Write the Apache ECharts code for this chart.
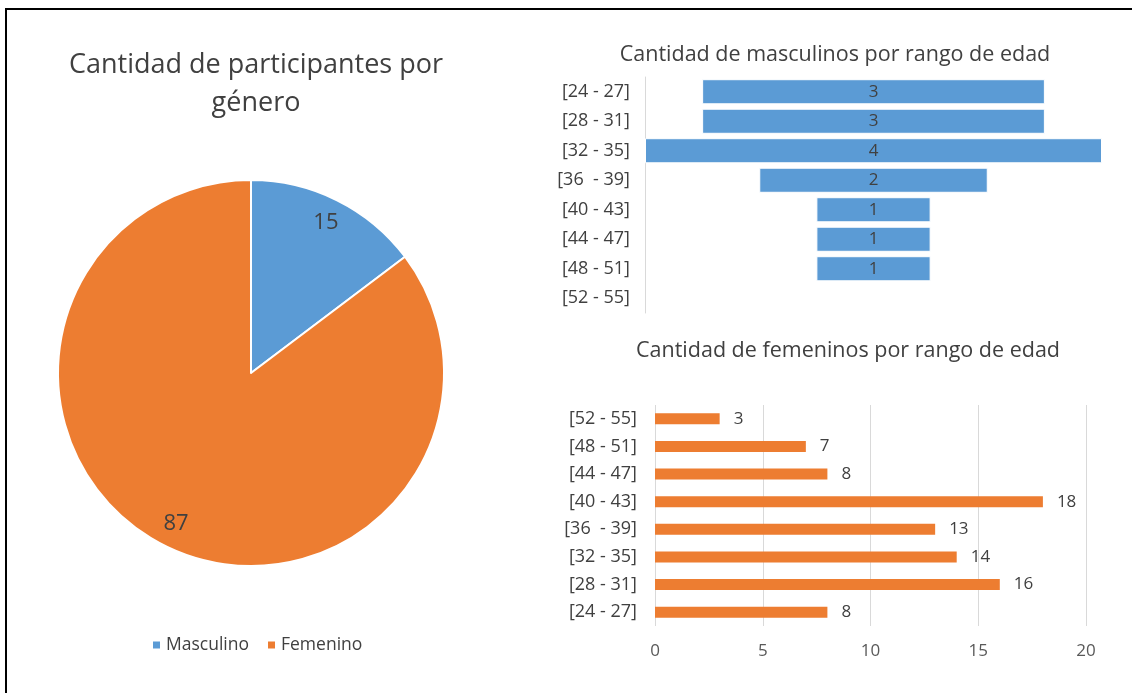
<!DOCTYPE html>
<html>
<head>
<meta charset="utf-8">
<script src="https://cdn.jsdelivr.net/npm/echarts@6/dist/echarts.min.js"></script>
<style>
    html, body { margin: 0; padding: 0; background: #fff; }
    #frame { position: absolute; left: 5px; top: 8px; width: 1127px; height: 685px; border-left: 2px solid #000; border-top: 2px solid #000; }
    #container { position: absolute; left: 0; top: 0; width: 1132px; height: 693px; }
</style>
</head>
<body>
<div id="frame"></div>
<div id="container"></div>
<script>
var generos = ['Masculino', 'Femenino'];
var participantes = [15, 87];

var rangos = ['[24 - 27]', '[28 - 31]', '[32 - 35]', '[36  - 39]', '[40 - 43]', '[44 - 47]', '[48 - 51]', '[52 - 55]'];
var masculinos = [3, 3, 4, 2, 1, 1, 1, 0];
var femeninos = [8, 16, 14, 13, 18, 8, 7, 3];

var femTicks = [0, 5, 10, 15, 20];

document.addEventListener('DOMContentLoaded', function () {
    var chartDom = document.getElementById('container');
    var myChart = echarts.init(chartDom);
    var font = 'Open Sans, sans-serif';
    var azul = '#5B9BD5';
    var naranja = '#ED7D31';
    var texto = '#404040';

    var maxMasc = Math.max.apply(null, masculinos);
    // invisible offset so the male bars sit centred
    var offset = masculinos.map(function (v) { return (maxMasc - v) / 2; });

    var option = {
        animation: false,
        title: [
            {
                text: 'Cantidad de participantes por\ngénero',
                left: 251,
                top: 41,
                textAlign: 'center',
                textStyle: { fontFamily: font, fontSize: 27, fontWeight: 'normal', color: texto, lineHeight: 38 }
            },
            {
                text: 'Cantidad de masculinos por rango de edad',
                left: 830,
                top: 39,
                textAlign: 'center',
                textStyle: { fontFamily: font, fontSize: 21.5, fontWeight: 'normal', color: texto }
            },
            {
                text: 'Cantidad de femeninos por rango de edad',
                left: 843,
                top: 335,
                textAlign: 'center',
                textStyle: { fontFamily: font, fontSize: 21.5, fontWeight: 'normal', color: texto }
            }
        ],
        legend: {
            data: generos,
            left: 146,
            top: 631,
            itemWidth: 9,
            itemHeight: 9,
            itemGap: 17,
            icon: 'rect',
            textStyle: { fontFamily: font, fontSize: 17.5, color: texto }
        },
        grid: [
            { left: 645, top: 77, width: 457, height: 236 },
            { left: 655, top: 405, width: 431, height: 221 }
        ],
        xAxis: [
            {
                gridIndex: 0,
                type: 'value',
                min: 0,
                max: maxMasc,
                show: false
            },
            {
                gridIndex: 1,
                type: 'value',
                min: femTicks[0],
                max: femTicks[femTicks.length - 1],
                interval: 5,
                axisLine: { show: false },
                axisTick: { show: false },
                axisLabel: { fontFamily: font, fontSize: 17, color: '#595959', margin: 17 },
                splitLine: { show: true, lineStyle: { color: '#d9d9d9', width: 1 } }
            }
        ],
        yAxis: [
            {
                gridIndex: 0,
                type: 'category',
                data: rangos,
                inverse: true,
                axisLine: { show: true, lineStyle: { color: '#d9d9d9' } },
                axisTick: { show: false },
                axisLabel: { fontFamily: font, fontSize: 18, color: texto, margin: 15 }
            },
            {
                gridIndex: 1,
                type: 'category',
                data: rangos,
                axisLine: { show: false },
                axisTick: { show: false },
                axisLabel: { fontFamily: font, fontSize: 18, color: texto, margin: 18 }
            }
        ],
        series: [
            {
                name: 'Participantes',
                type: 'pie',
                center: [251, 373],
                radius: [0, 193],
                startAngle: 90,
                clockwise: true,
                label: { show: false },
                labelLine: { show: false },
                itemStyle: { borderColor: '#fff', borderWidth: 2 },
                data: generos.map(function (g, i) {
                    return { name: g, value: participantes[i], itemStyle: { color: i === 0 ? azul : naranja } };
                })
            },
            {
                // label layer, puts the numbers near the rim like Excel
                name: 'Etiquetas',
                type: 'pie',
                center: [251, 373],
                radius: [140, 190],
                startAngle: 90,
                silent: true,
                legendHoverLink: false,
                itemStyle: { color: 'transparent' },
                label: { show: true, position: 'inside', fontFamily: font, fontSize: 22, color: texto, formatter: '{c}' },
                labelLine: { show: false },
                data: generos.map(function (g, i) {
                    return { name: g + ' ', value: participantes[i] };
                })
            },
            {
                type: 'bar',
                xAxisIndex: 0,
                yAxisIndex: 0,
                stack: 'masc',
                silent: true,
                itemStyle: { color: 'transparent' },
                barCategoryGap: '15%',
                data: offset
            },
            {
                name: 'Masculinos',
                type: 'bar',
                xAxisIndex: 0,
                yAxisIndex: 0,
                stack: 'masc',
                barCategoryGap: '15%',
                itemStyle: { color: azul, borderColor: '#fff', borderWidth: 1 },
                label: {
                    show: true,
                    position: 'inside',
                    fontFamily: font,
                    fontSize: 17,
                    color: texto,
                    formatter: function (p) { return p.value ? p.value : ''; }
                },
                data: masculinos
            },
            {
                name: 'Femeninos',
                type: 'bar',
                xAxisIndex: 1,
                yAxisIndex: 1,
                barWidth: 11,
                itemStyle: { color: naranja },
                label: {
                    show: true,
                    position: 'right',
                    distance: 14,
                    fontFamily: font,
                    fontSize: 17,
                    color: texto
                },
                data: femeninos
            }
        ]
    };

    option && myChart.setOption(option);
});
</script>
</body>
</html>
